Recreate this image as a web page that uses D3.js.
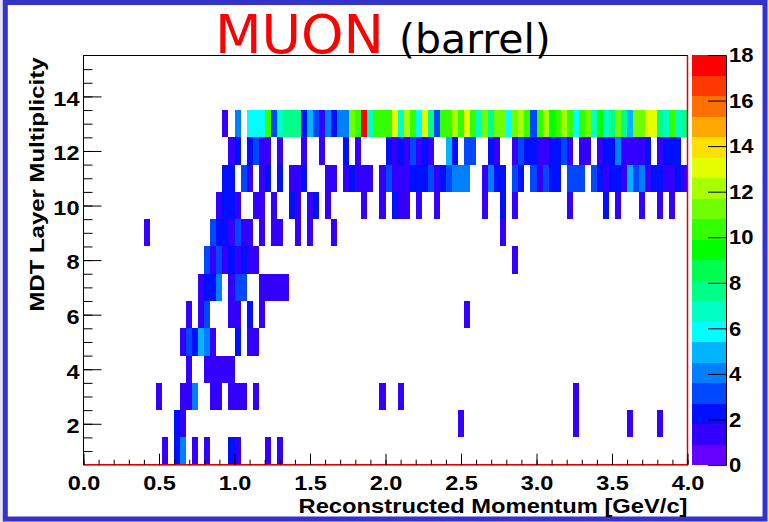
<!DOCTYPE html>
<html>
<head>
<meta charset="utf-8">
<script src="https://cdn.jsdelivr.net/npm/d3@7"></script>
<style>
  body { margin: 0; background: #fff; }
  text { font-family: "Liberation Sans", Arial, sans-serif; }
</style>
</head>
<body>
<svg width="769" height="522"></svg>
<script>
// momentum binning: 100 bins of 0.04 GeV/c between 0 and 4
const binWidth = 0.04;

// entries per layer row, as [momentum bin index, count]
const layer13 = [[23,1],[25,4],[27,6],[28,6],[29,6],[30,10],[31,3],[32,7],[33,8],[34,8],[35,8],[36,2],[37,5],[38,3],[39,1],[40,4],[41,2],[42,4],[43,4],[44,11],[45,10],[46,18],[47,7],[48,10],[49,10],[50,10],[51,13],[52,7],[53,12],[54,10],[55,6],[56,13],[57,8],[58,3],[59,10],[60,10],[61,12],[62,10],[63,13],[64,10],[65,7],[66,11],[67,8],[68,11],[69,11],[70,6],[71,11],[72,12],[73,10],[74,3],[75,10],[76,12],[77,9],[78,10],[79,12],[80,10],[81,6],[82,10],[83,11],[84,7],[85,9],[86,7],[87,8],[88,11],[89,8],[90,5],[91,11],[92,11],[93,13],[94,13],[95,8],[96,7],[97,10],[98,7],[99,8]];
const layer12 = [[24,1],[25,2],[27,2],[28,3],[29,1],[30,1],[32,1],[36,1],[39,1],[43,2],[45,1],[50,2],[51,1],[52,2],[53,1],[54,3],[55,1],[56,2],[57,1],[60,5],[61,2],[63,3],[64,3],[67,2],[68,1],[71,1],[72,3],[73,2],[74,2],[75,1],[76,1],[77,2],[78,2],[79,3],[80,1],[82,1],[83,1],[85,1],[86,2],[87,2],[88,4],[89,1],[90,1],[91,1],[92,1],[93,2],[95,1],[96,2],[97,2],[98,2]];
const layer11 = [[23,2],[24,2],[26,3],[27,1],[29,1],[30,2],[32,2],[34,1],[35,1],[36,2],[40,1],[41,1],[43,1],[44,2],[45,1],[46,1],[47,1],[49,1],[50,3],[51,1],[52,1],[53,1],[54,2],[55,2],[56,2],[57,3],[58,1],[59,2],[60,3],[61,4],[62,4],[63,4],[66,1],[67,4],[68,2],[69,2],[71,3],[72,2],[74,3],[75,1],[76,3],[77,2],[78,2],[80,3],[81,3],[82,3],[84,3],[85,2],[86,1],[87,2],[88,2],[89,1],[90,5],[91,3],[92,4],[93,1],[94,2],[95,2],[96,1],[97,1],[98,2],[99,1]];
const layer10 = [[22,1],[23,2],[24,2],[25,1],[28,1],[29,1],[31,1],[34,2],[35,1],[37,1],[38,2],[40,1],[46,1],[49,1],[51,2],[52,1],[53,1],[55,1],[58,1],[66,1],[69,2],[71,1],[80,1],[86,2],[88,1],[92,1],[95,1],[97,1]];
const layer9 = [[10,1],[21,3],[22,2],[23,2],[24,1],[25,3],[26,1],[27,1],[29,1],[31,1],[32,1],[35,1],[37,1],[41,1],[69,1]];
const layer8 = [[20,3],[21,1],[22,3],[23,1],[24,2],[25,1],[26,2],[27,1],[28,1],[71,1]];
const layer7 = [[19,1],[20,2],[21,2],[22,4],[24,1],[25,3],[26,3],[29,1],[30,1],[31,1],[32,1],[33,1]];
const layer6 = [[17,1],[19,1],[20,3],[24,1],[25,1],[27,2],[29,1],[63,1]];
const layer5 = [[16,1],[17,3],[18,2],[19,5],[20,4],[21,1],[25,2],[27,1],[28,1]];
const layer4 = [[17,1],[20,1],[21,1],[22,1],[23,1],[24,1]];
const layer3 = [[12,1],[16,1],[17,1],[18,4],[21,1],[22,1],[24,1],[25,1],[26,1],[28,1],[49,1],[52,1],[81,1]];
const layer2 = [[15,2],[16,1],[62,1],[81,1],[90,1],[95,1]];
const layer1 = [[13,1],[15,2],[16,4],[18,1],[20,1],[24,2],[25,1],[30,1],[32,1]];

const layers = [layer1, layer2, layer3, layer4, layer5, layer6, layer7, layer8, layer9, layer10, layer11, layer12, layer13];

// tick labels
const xTicks = [0, 0.5, 1, 1.5, 2, 2.5, 3, 3.5, 4];
const yTicks = [2, 4, 6, 8, 10, 12, 14];
const zTicks = [0, 2, 4, 6, 8, 10, 12, 14, 16, 18];

// 20 colour levels from 0 to 18 (bottom to top of the palette)
const palette = ["#6600ff","#3300ff","#0010ff","#0048ff","#0080ff","#00b4ff","#00ffff","#00ffc4","#00ff88","#00ff50",
                 "#00ff00","#33ff00","#70ff00","#a8ff00","#e4ff00","#ffe000","#ffa800","#ff7000","#ff3800","#ff0000"];

const svg = d3.select("svg");
const W = 769, H = 522;
const frame = { left: 83.5, right: 687.5, top: 55.5, bottom: 464.7 };
const labelFont = "Liberation Sans, Arial, sans-serif";

// text in the picture is a bit wider than Arial bold
function widen(sel, f) {
  sel.each(function () {
    const len = this.getComputedTextLength();
    d3.select(this).attr("textLength", len * f).attr("lengthAdjust", "spacingAndGlyphs");
  });
}

// slide background and blue border
svg.append("rect").attr("width", W).attr("height", H).attr("fill", "#e4e4f0");
svg.append("rect")
  .attr("x", 5.3).attr("y", 2.5).attr("width", 759.7).attr("height", 516.5)
  .attr("fill", "#fff").attr("stroke", "#3333cc").attr("stroke-width", 5);

const x = d3.scaleLinear().domain([0, 4]).range([frame.left, frame.right]);
const y = d3.scaleLinear().domain([0.5, 15.5]).range([frame.bottom, frame.top]);
const z = d3.scaleLinear().domain([0, 18]).range([465, 55]);
const color = d3.scaleQuantize().domain([0, 18]).range(palette);

// cells
const cells = layers.flatMap((row, i) => row.map(([bin, count]) => ({ layer: i + 1, bin, count })));

svg.append("g")
  .attr("shape-rendering", "crispEdges")
  .selectAll("rect")
  .data(cells)
  .join("rect")
  .attr("x", d => x(d.bin * binWidth))
  .attr("width", d => x((d.bin + 1) * binWidth) - x(d.bin * binWidth))
  .attr("y", d => y(d.layer + 0.5))
  .attr("height", d => y(d.layer - 0.5) - y(d.layer + 0.5))
  .attr("fill", d => color(d.count));

// frame
svg.append("rect")
  .attr("x", frame.left).attr("y", frame.top)
  .attr("width", frame.right - frame.left).attr("height", frame.bottom - frame.top)
  .attr("fill", "none").attr("stroke", "#000").attr("stroke-width", 1);
svg.append("path")
  .attr("d", `M${frame.left},${frame.bottom}H${frame.right}V${frame.top}`)
  .attr("fill", "none").attr("stroke", "#e00000").attr("stroke-width", 1.5);

// x axis: minor then major ticks, pointing up into the frame
const xMinor = d3.range(0, 4.0001, 0.1);
svg.append("g")
  .attr("transform", `translate(0,${frame.bottom})`)
  .call(d3.axisBottom(x).tickValues(xMinor).tickSize(-5).tickFormat(""))
  .call(g => g.select(".domain").remove());
svg.append("g")
  .attr("transform", `translate(0,${frame.bottom})`)
  .call(d3.axisBottom(x).tickValues(xTicks).tickSize(-11).tickPadding(10).tickFormat(d3.format(".1f")))
  .call(g => g.select(".domain").remove())
  .call(g => g.selectAll("text").attr("font-size", 21).attr("font-weight", "bold")
    .attr("font-family", labelFont).attr("fill", "#000").call(widen, 1.12));

// y axis
const yMinor = d3.range(1, 15.5, 0.5);
svg.append("g")
  .attr("transform", `translate(${frame.left},0)`)
  .call(d3.axisLeft(y).tickValues(yMinor).tickSize(-9).tickFormat(""))
  .call(g => g.select(".domain").remove());
svg.append("g")
  .attr("transform", `translate(${frame.left},0)`)
  .call(d3.axisLeft(y).tickValues(yTicks).tickSize(-18).tickPadding(4))
  .call(g => g.select(".domain").remove())
  .call(g => g.selectAll("text").attr("font-size", 21).attr("font-weight", "bold").attr("dy", "0.42em")
    .attr("font-family", labelFont).attr("fill", "#000").call(widen, 1.12));

// colour bar
const bar = { left: 691.5, right: 726 };
const levels = d3.range(palette.length);
svg.append("g")
  .attr("shape-rendering", "crispEdges")
  .selectAll("rect")
  .data(levels)
  .join("rect")
  .attr("x", bar.left)
  .attr("width", bar.right - bar.left)
  .attr("y", i => z((i + 1) * 18 / palette.length))
  .attr("height", i => z(i * 18 / palette.length) - z((i + 1) * 18 / palette.length))
  .attr("fill", i => palette[i]);
svg.append("g")
  .attr("transform", `translate(${bar.right},0)`)
  .call(d3.axisRight(z).tickValues(zTicks).tickSize(-18).tickPadding(3))
  .call(g => g.select(".domain").attr("stroke", "#000"))
  .call(g => g.selectAll("text").attr("font-size", 21).attr("font-weight", "bold")
    .attr("font-family", labelFont).attr("fill", "#000").call(widen, 1.05));

// axis titles
svg.append("text")
  .attr("x", frame.right).attr("y", 513)
  .attr("text-anchor", "end")
  .attr("font-size", 21).attr("font-weight", "bold")
  .text("Reconstructed Momentum [GeV/c]")
  .call(widen, 1.13);

svg.append("text")
  .attr("transform", `translate(44,${frame.top + 2}) rotate(-90)`)
  .attr("text-anchor", "end")
  .attr("font-size", 21).attr("font-weight", "bold")
  .text("MDT Layer Multiplicity")
  .call(widen, 1.14);

// title
const title = svg.append("text")
  .attr("x", 215).attr("y", 53)
  .style("font-family", "'Comic Sans MS', 'DejaVu Sans', sans-serif");
title.append("tspan").attr("fill", "#ff0000").attr("font-size", 54).text("MUON");
title.append("tspan").attr("fill", "#000").attr("font-size", 41).attr("dx", 15).text("(barrel)");
</script>
</body>
</html>
